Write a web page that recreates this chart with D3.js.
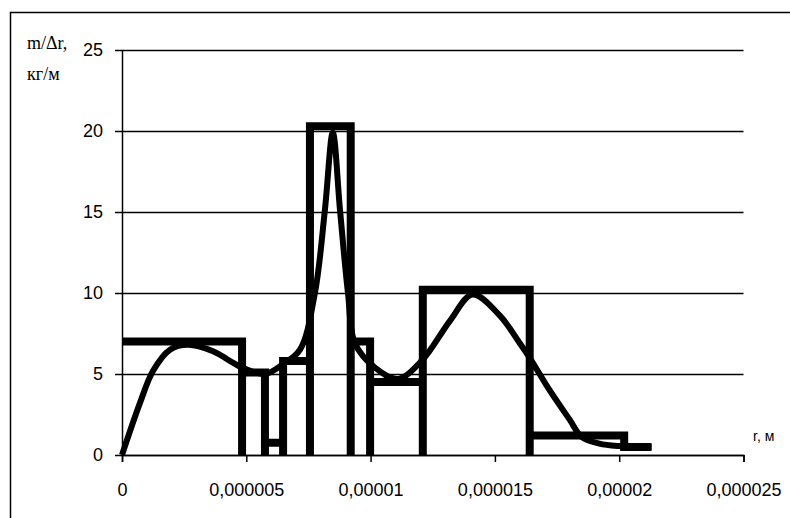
<!DOCTYPE html>
<meta charset="utf-8">
<style>
body { margin: 0; background: #fff; }
svg { display: block; }
.tick text { font: 18px "Liberation Sans", Arial, sans-serif; fill: #000; }
.axis .domain { stroke: #000; stroke-width: 1.5; }
.tick line { stroke: #000; stroke-width: 1.5; }
</style>
<body>
<script src="https://d3js.org/d3.v7.min.js"></script>
<script>
// histogram outline (r in microns, m/dr)
var histR = [0, 4.83, 4.83, 4.83, 5.75, 5.75, 5.75, 6.48, 6.48, 6.48, 7.56, 7.56, 7.56, 9.2, 9.2, 9.2, 9.98, 9.98, 9.98, 12.1, 12.1, 12.1, 16.4, 16.4, 16.4, 20.2, 20.2, 21.3];
var histM = [7, 7, 0, 5.1, 5.1, 0, 0.75, 0.75, 0, 5.8, 5.8, 0, 20.3, 20.3, 0, 7.0, 7.0, 0, 4.5, 4.5, 0, 10.2, 10.2, 0, 1.2, 1.2, 0.5, 0.5];

// smoothed distribution curve
var curveR = [0, 0.72, 1.25, 1.93, 2.65, 3.66, 4.46, 4.83, 5.75, 6.47, 7.16, 7.76, 8.16, 8.48, 8.77, 9.09, 9.37, 10.17, 11.1, 12.1, 13.2, 14.1, 15.2, 16.0, 16.4, 17.2, 18.0, 18.5, 19.2, 20.0, 21.3];
var curveM = [0, 3.2, 5.2, 6.5, 6.8, 6.4, 5.7, 5.4, 5.0, 5.6, 6.5, 10, 15.1, 19.9, 15.1, 10, 6.9, 5.4, 4.7, 5.9, 8.3, 9.9, 8.6, 6.9, 6.0, 4.0, 2.2, 1.1, 0.7, 0.55, 0.5];

var yTicks = [0, 5, 10, 15, 20, 25];
var xTicks = [0, 5e-6, 1e-5, 1.5e-5, 2e-5, 2.5e-5];

var W = 790, H = 518;
var svg = d3.select("body").append("svg").attr("width", W).attr("height", H);

// outer frame
svg.append("rect")
  .attr("x", 10.5).attr("y", 12.5)
  .attr("width", 800).attr("height", 520)
  .attr("fill", "none").attr("stroke", "#000").attr("stroke-width", 1.5);

var x = d3.scaleLinear().domain([0, 25e-6]).range([122, 743.5]);
var y = d3.scaleLinear().domain([0, 25]).range([455, 50]);

// y axis + gridlines
var gy = svg.append("g").attr("class", "axis")
  .attr("transform", "translate(122,0)")
  .call(d3.axisLeft(y).tickValues(yTicks).tickSizeInner(-(743.5 - 122)).tickSizeOuter(0));
gy.selectAll(".tick line").attr("x1", -7);
gy.selectAll(".tick text").attr("x", -19);

// x axis
var fmt = function(d) { return parseFloat(d.toFixed(8)).toString().replace(".", ","); };
var gx = svg.append("g").attr("class", "axis")
  .attr("transform", "translate(0,455)")
  .call(d3.axisBottom(x).tickValues(xTicks).tickSize(7).tickFormat(fmt));
gx.selectAll(".tick text").attr("y", 28);

// histogram
var histPts = histR.map(function(r, i) { return [r * 1e-6, histM[i]]; });
svg.append("path")
  .attr("d", d3.line().x(function(d) { return x(d[0]); }).y(function(d) { return y(d[1]); })(histPts))
  .attr("fill", "none").attr("stroke", "#000").attr("stroke-width", 8)
  .attr("stroke-linejoin", "miter").attr("stroke-linecap", "butt");

// smooth curve
var curvePts = curveR.map(function(r, i) { return [r * 1e-6, curveM[i]]; });
svg.append("path")
  .attr("d", d3.line().curve(d3.curveCatmullRom.alpha(0.5))
    .x(function(d) { return x(d[0]); }).y(function(d) { return y(d[1]); })(curvePts))
  .attr("fill", "none").attr("stroke", "#000").attr("stroke-width", 6)
  .attr("stroke-linejoin", "round");

// axis titles
var serif = '"Liberation Serif", "Times New Roman", serif';
svg.append("text").attr("x", 27).attr("y", 49)
  .style("font", "18px " + serif).text("m/Δr,");
svg.append("text").attr("x", 27).attr("y", 80)
  .style("font", "18px " + serif).text("кг/м");
svg.append("text").attr("x", 753).attr("y", 441)
  .style("font", '14px "Liberation Sans", Arial, sans-serif').text("r, м");
</script>
</body>
